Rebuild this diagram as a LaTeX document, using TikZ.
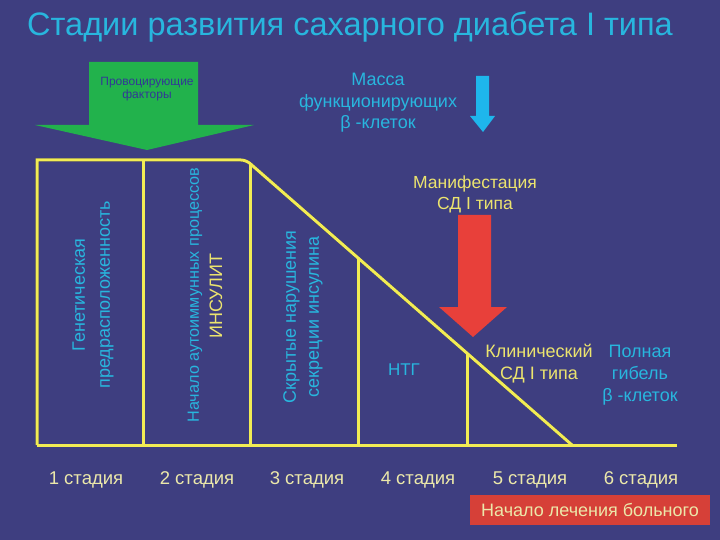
\documentclass[tikz,border=0pt]{standalone}
\usepackage{fontspec}
\setmainfont{Liberation Sans}
\definecolor{bg}{RGB}{62,62,128}
\definecolor{cyanT}{RGB}{40,182,222}
\definecolor{yelT}{RGB}{236,228,110}
\definecolor{yelL}{RGB}{242,236,84}
\definecolor{paleY}{RGB}{236,232,170}
\definecolor{grn}{RGB}{34,178,76}
\definecolor{grnT}{RGB}{50,56,150}
\definecolor{redA}{RGB}{232,64,58}
\definecolor{redB}{RGB}{214,64,56}
\definecolor{cyanA}{RGB}{30,182,236}
\definecolor{shd}{RGB}{36,36,72}
\tikzset{
  fs/.style={font=\fontsize{#1}{\fpeval{#1*1.2}}\selectfont},
  cyantext/.style={text=cyanT, align=center, inner sep=0pt},
  yeltext/.style={text=yelT, align=center, inner sep=0pt},
  frame/.style={draw=yelL, line width=3pt, line join=miter},
  frameshadow/.style={draw=shd, line width=3pt, line join=miter},
  stagelabel/.style={text=paleY, inner sep=0pt, fs=18.5},
}
\begin{document}
\begin{tikzpicture}[x=1pt,y=-1pt]
\fill[bg] (0,0) rectangle (720,540);
\useasboundingbox (0,0) rectangle (720,540);

% title
\node[anchor=west, text=cyanT, inner sep=0pt, fs=32.5] (title) at (27,27) {Стадии развития сахарного диабета I типа};

% green arrow
\fill[grn] (89,62) -- (198,62) -- (198,125) -- (254,125) -- (147,150) -- (35,125) -- (89,125) -- cycle;
\node[text=grnT, align=center, inner sep=0pt, font=\fontsize{12}{13.5}\selectfont] (prov) at (147,89) {Провоцирующие\\факторы};

% cyan arrow
\fill[cyanA] (476,76) -- (489,76) -- (489,116) -- (495,116) -- (483,132) -- (470,116) -- (476,116) -- cycle;
\node[cyantext, font=\fontsize{18}{21.5}\selectfont] (mass) at (378,103) {Масса\\функционирующих\\β -клеток};

% frame coordinates
\coordinate (tl) at (37,160);
\coordinate (tc) at (246,160);
\coordinate (bl) at (37,445);
\coordinate (br) at (677,445);
\coordinate (de) at (572,445);
\coordinate (v1t) at (143,160);  \coordinate (v1b) at (143,445);
\coordinate (v2t) at (250,163.5);\coordinate (v2b) at (250,445);
\coordinate (v3t) at (358,258);  \coordinate (v3b) at (358,445);
\coordinate (v4t) at (467,353);  \coordinate (v4b) at (467,445);

\begin{scope}[shift={(1.5,1.5)}]
\draw[frameshadow] (bl) -- (tl) [rounded corners=5pt] -- (tc) -- (de);
\draw[frameshadow] (bl) -- (br);
\draw[frameshadow] (v1t) -- (v1b) (v2t) -- (v2b) (v3t) -- (v3b) (v4t) -- (v4b);
\end{scope}
\draw[frame] (bl) -- (tl) [rounded corners=5pt] -- (tc) -- (de);
\draw[frame] (bl) -- (br);
\draw[frame] (v1t) -- (v1b) (v2t) -- (v2b) (v3t) -- (v3b) (v4t) -- (v4b);

% column texts
\node[cyantext, rotate=90, font=\fontsize{18}{25}\selectfont] (gen) at (93,295) {Генетическая\\предрасположенность};
\node[cyantext, rotate=90, fs=16.2] (auto) at (195,295) {Начало аутоиммунных процессов};
\node[yeltext, rotate=90, fs=18] (insul) at (216,296) {ИНСУЛИТ};
\node[cyantext, rotate=90, font=\fontsize{18}{23}\selectfont] (skr) at (303,317) {Скрытые нарушения\\секреции инсулина};
\node[cyantext, fs=17] (ntg) at (404,370) {НТГ};

% red arrow
\fill[redA] (458,215) -- (491,215) -- (491,307) -- (507,307) -- (473,337) -- (439,307) -- (458,307) -- cycle;
\node[yeltext, font=\fontsize{17.5}{21}\selectfont] (manif) at (475,194) {Манифестация\\СД I типа};

\node[yeltext, font=\fontsize{18}{22}\selectfont] (klin) at (539,364) {Клинический\\СД I типа};
\node[cyantext, font=\fontsize{18}{22}\selectfont] (poln) at (640,375) {Полная\\гибель\\β -клеток};

% stage labels
\node[stagelabel] (s1) at (86,480) {1 стадия};
\node[stagelabel] (s2) at (197,480) {2 стадия};
\node[stagelabel] (s3) at (307,480) {3 стадия};
\node[stagelabel] (s4) at (418,480) {4 стадия};
\node[stagelabel] (s5) at (530,480) {5 стадия};
\node[stagelabel] (s6) at (641,480) {6 стадия};

\node[fill=redB, text=paleY, minimum width=240pt, minimum height=30pt, inner sep=0pt, fs=18] (treat) at (590,510) {Начало лечения больного};
\end{tikzpicture}
\end{document}
